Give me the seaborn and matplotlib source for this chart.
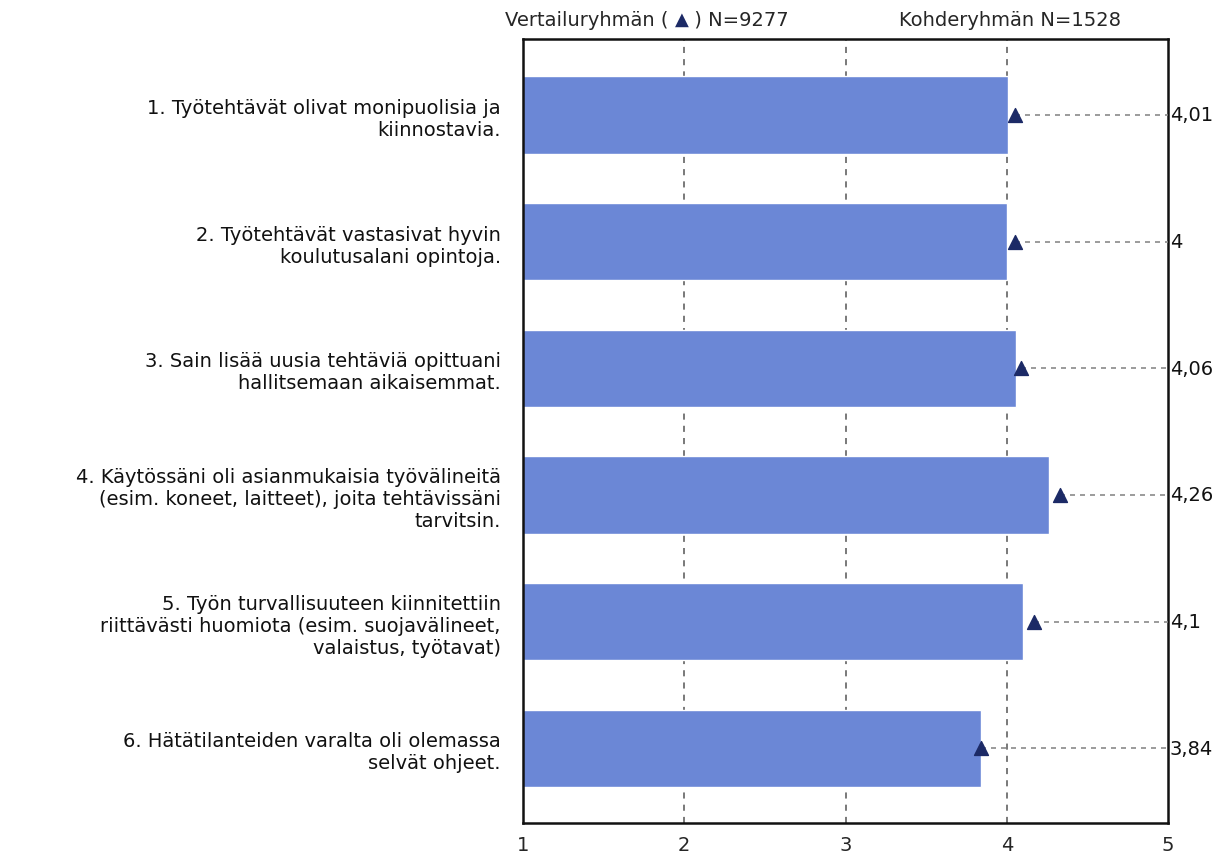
import matplotlib
matplotlib.use("Agg")
import matplotlib.pyplot as plt
import seaborn as sns
import pandas as pd

# Data
questions = [
    "1. Työtehtävät olivat monipuolisia ja\nkiinnostavia.",
    "2. Työtehtävät vastasivat hyvin\nkoulutusalani opintoja.",
    "3. Sain lisää uusia tehtäviä opittuani\nhallitsemaan aikaisemmat.",
    "4. Käytössäni oli asianmukaisia työvälineitä\n(esim. koneet, laitteet), joita tehtävissäni\ntarvitsin.",
    "5. Työn turvallisuuteen kiinnitettiin\nriittävästi huomiota (esim. suojavälineet,\nvalaistus, työtavat)",
    "6. Hätätilanteiden varalta oli olemassa\nselvät ohjeet.",
]
target_means = [4.01, 4.0, 4.06, 4.26, 4.1, 3.84]
comparison_means = [4.05, 4.05, 4.09, 4.33, 4.17, 3.84]
x_ticks = [1, 2, 3, 4, 5]
target_n = 1528
comparison_n = 9277

df = pd.DataFrame({"question": questions, "target": target_means,
                   "comparison": comparison_means})

sns.set_style("white")
plt.rcParams["font.family"] = ["DejaVu Sans"]

bar_color = "#6b87d6"
tri_color = "#1c2a66"
fs = 14

fig = plt.figure(figsize=(12.31, 8.62), dpi=100)
ax = fig.add_axes([523 / 1231, 1 - 824 / 862, 645 / 1231, 784 / 862])

sns.barplot(data=df, x="target", y="question", orient="h", color=bar_color,
            saturation=1, width=0.61, ax=ax, zorder=2)

ypos = list(range(len(questions)))
ax.hlines(ypos, df["comparison"], 5, colors="#8a8a8a", linestyles=(0, (3, 3)),
          linewidth=1.2, zorder=3, clip_on=False)
ax.scatter(df["comparison"], ypos, marker="^", s=100, color=tri_color, zorder=4)

for y, v in zip(ypos, df["target"]):
    ax.text(5.012, y, f"{v:g}".replace(".", ","), va="center", ha="left",
            fontsize=fs, color="#111111")

ax.set_xlim(1, 5)
ax.set_ylim(5.59, -0.6)
ax.set_xticks(x_ticks)
ax.set_xticklabels([str(t) for t in x_ticks], fontsize=fs)
ax.tick_params(axis="x", direction="out", length=6, width=1, color="#333333", pad=3)
ax.tick_params(axis="y", length=0, pad=16)
for lbl in ax.get_yticklabels():
    lbl.set_fontsize(fs)
    lbl.set_linespacing(1.2)
    lbl.set_color("#111111")
ax.set_xlabel("")
ax.set_ylabel("")
ax.grid(False)
for x in x_ticks[1:-1]:
    ax.axvline(x, color="#555555", linestyle=(0, (4, 4)), linewidth=1.1, zorder=1)

for s in ax.spines.values():
    s.set_visible(True)
    s.set_color("#111111")
    s.set_linewidth(1.8)

# header texts
t1 = fig.text(505 / 1231, 1 - 20 / 862, "Vertailuryhmän ( ", fontsize=fs,
              ha="left", va="center")
t2 = ax.annotate("▲", xy=(1, 0.5), xycoords=t1, va="center", ha="left",
                 fontsize=13, color=tri_color)
ax.annotate(f" ) N={comparison_n}", xy=(1, 0.5), xycoords=t2, va="center",
            ha="left", fontsize=fs)
fig.text(1010 / 1231, 1 - 20 / 862, f"Kohderyhmän N={target_n}", fontsize=fs,
         ha="center", va="center")

fig.savefig("out.png", dpi=100)
